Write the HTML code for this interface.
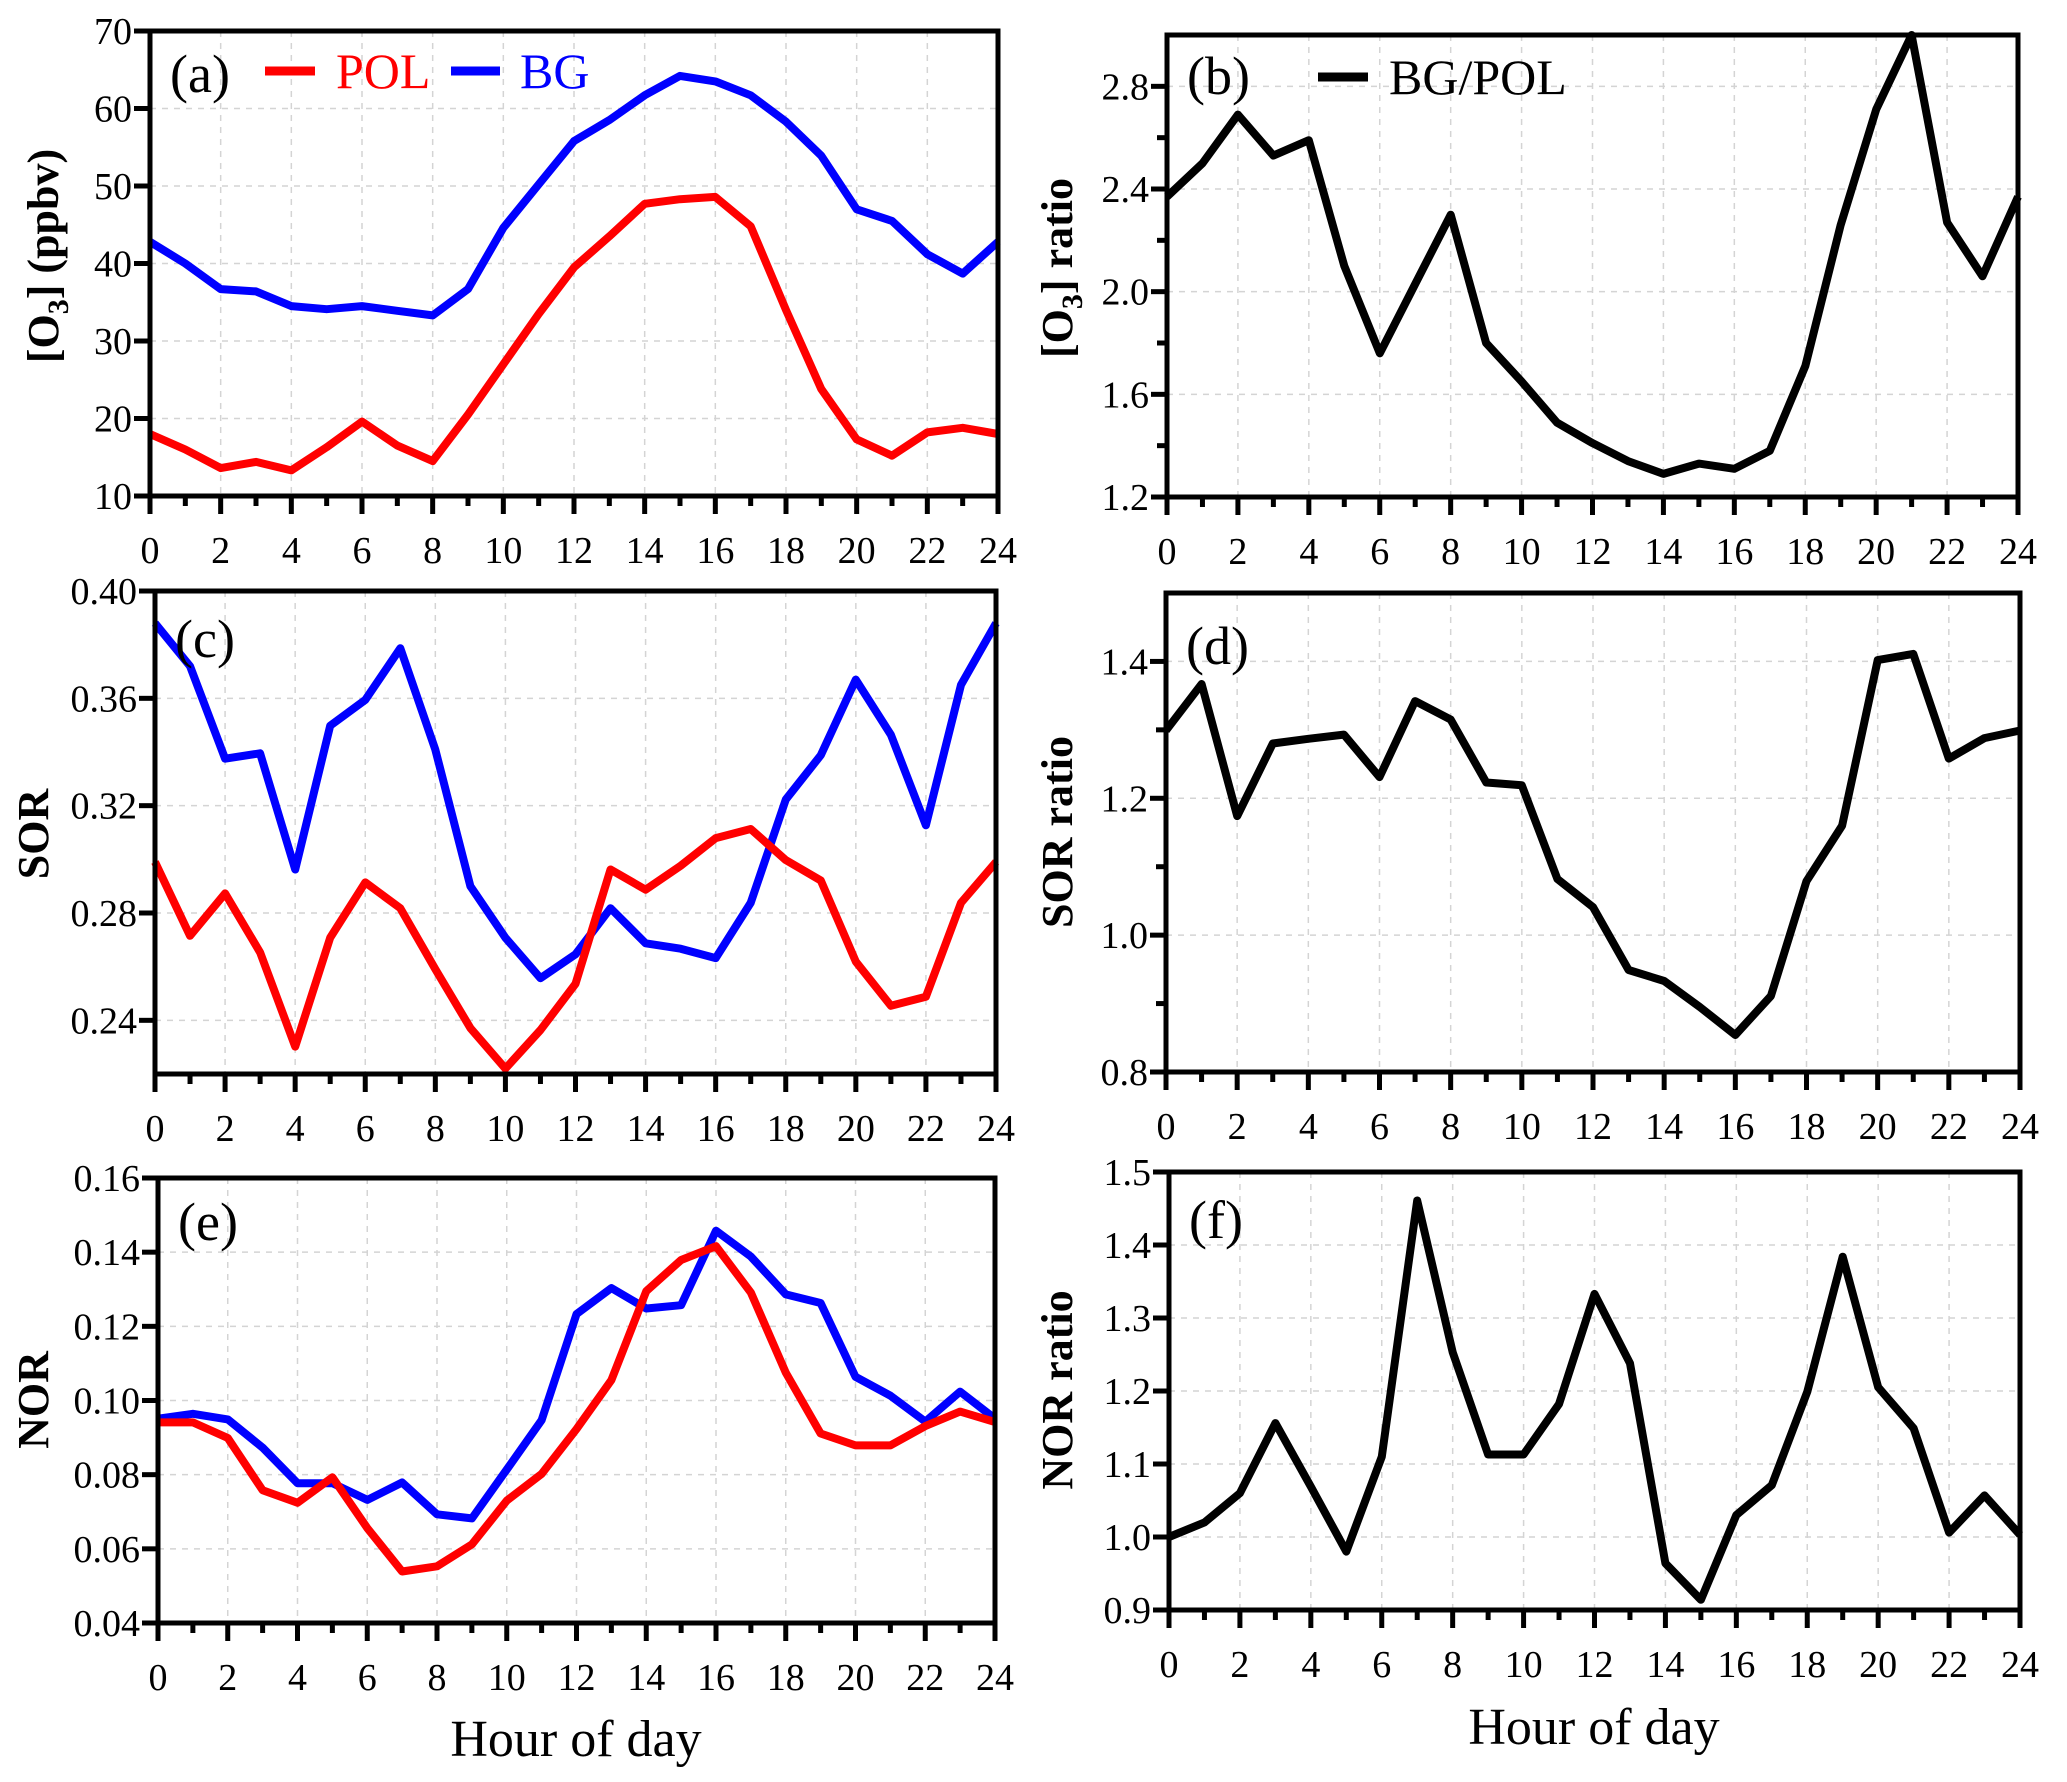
<!DOCTYPE html>
<html><head><meta charset="utf-8"><style>
html,body{margin:0;padding:0;background:#fff;}
svg{display:block;font-family:"Liberation Serif",serif;}
</style></head><body>
<svg id="fig" width="2067" height="1782" viewBox="0 0 2067 1782" xmlns="http://www.w3.org/2000/svg"></svg>
<script>
const hours = [0,1,2,3,4,5,6,7,8,9,10,11,12,13,14,15,16,17,18,19,20,21,22,23,24];
const xTickLabels = ["0","2","4","6","8","10","12","14","16","18","20","22","24"];
const o3BG = [42.8,40,36.7,36.4,34.5,34.1,34.5,33.9,33.3,36.7,44.6,50.2,55.8,58.5,61.7,64.2,63.5,61.7,58.3,53.9,47,45.5,41.2,38.7,42.8];
const o3POL = [18,16,13.6,14.4,13.3,16.3,19.6,16.5,14.5,20.5,27,33.5,39.5,43.5,47.7,48.3,48.6,44.8,34,23.8,17.3,15.2,18.2,18.8,18];
const o3Ratio = [2.37,2.50,2.69,2.53,2.59,2.10,1.76,2.03,2.30,1.80,1.65,1.49,1.41,1.34,1.29,1.33,1.31,1.38,1.71,2.26,2.71,3.0,2.27,2.06,2.37];
const sorBG = [0.388,0.372,0.3375,0.3395,0.2962,0.3498,0.3594,0.3787,0.3409,0.29,0.2708,0.2557,0.2646,0.2818,0.2687,0.2667,0.2632,0.2838,0.3223,0.3388,0.367,0.3464,0.3127,0.365,0.388];
const sorPOL = [0.299,0.2715,0.2873,0.2653,0.2302,0.2708,0.2914,0.2818,0.2591,0.2371,0.222,0.2364,0.2536,0.2962,0.2887,0.2976,0.3079,0.3113,0.2997,0.2921,0.2619,0.2454,0.2488,0.2838,0.299];
const sorRatio = [1.299,1.367,1.174,1.28,1.287,1.293,1.231,1.342,1.315,1.223,1.219,1.082,1.041,0.949,0.933,0.895,0.854,0.911,1.079,1.16,1.402,1.411,1.258,1.288,1.299];
const norBG = [0.0951,0.0964,0.0949,0.0873,0.0777,0.0777,0.0732,0.0779,0.0693,0.0682,0.0814,0.0947,0.1233,0.1303,0.1248,0.1257,0.1458,0.1388,0.1286,0.1263,0.1064,0.1013,0.0943,0.1024,0.0951];
const norPOL = [0.0941,0.0941,0.0899,0.0758,0.0724,0.0793,0.0656,0.0539,0.0553,0.0612,0.073,0.0802,0.0923,0.1055,0.1295,0.1379,0.1416,0.1291,0.1075,0.0911,0.0879,0.0879,0.0931,0.097,0.0942];
const norRatio = [1.0,1.02,1.06,1.156,1.069,0.98,1.11,1.461,1.253,1.113,1.113,1.182,1.333,1.238,0.964,0.914,1.03,1.071,1.199,1.384,1.205,1.149,1.006,1.057,1.003];
const ticksA = [10,20,30,40,50,60,70];
const ticksB = [1.2,1.6,2.0,2.4,2.8];
const ticksC = [0.24,0.28,0.32,0.36,0.40];
const ticksD = [0.8,1.0,1.2,1.4];
const ticksE = [0.04,0.06,0.08,0.10,0.12,0.14,0.16];
const ticksF = [0.9,1.0,1.1,1.2,1.3,1.4,1.5];

const NS = "http://www.w3.org/2000/svg";
const svg = document.getElementById('fig');
function mk(tag, attrs, parent){
  const e = document.createElementNS(NS, tag);
  for (const k in attrs) e.setAttribute(k, attrs[k]);
  (parent||svg).appendChild(e);
  return e;
}
function panel(cfg){
  const g = mk('g', {});
  
  
  const sx = h => cfg.L + (h/24)*(cfg.R-cfg.L);
  const sy = v => cfg.B - (v-cfg.min)/(cfg.max-cfg.min)*(cfg.B-cfg.T);
  // grid
  for (let h=2; h<24; h+=2){
    const l = mk('line', {x1:sx(h),x2:sx(h),y1:cfg.T,y2:cfg.B,stroke:'#d4d4d4','stroke-width':1.5,'stroke-dasharray':'6,6'}, g);
    
    
  }
  cfg.ticks.forEach(v=>{
    const y = sy(v);
    if (Math.abs(y-cfg.T)>3 && Math.abs(y-cfg.B)>3){
      const l = mk('line', {x1:cfg.L,x2:cfg.R,y1:y,y2:y,stroke:'#d4d4d4','stroke-width':1.5,'stroke-dasharray':'6,6'}, g);
      
      
    }
    const t = mk('line', {x1:cfg.L-16,x2:cfg.L,y1:y,y2:y,stroke:'#000','stroke-width':5}, g);
    
    
    const tx = mk('text', {x:cfg.L-18,y:y+13,'text-anchor':'end','font-size':38}, g);
    tx.textContent = cfg.fmt(v);
    
    
  });
  (cfg.minor||[]).forEach(v=>{
    const t = mk('line', {x1:cfg.L-10,x2:cfg.L,y1:sy(v),y2:sy(v),stroke:'#000','stroke-width':5}, g);
    
    
  });
  hours.forEach(h=>{
    const major = h%2===0;
    const t = mk('line', {x1:sx(h),x2:sx(h),y1:cfg.B,y2:cfg.B+(major?18:10),stroke:'#000','stroke-width':5}, g);
    
    
  });
  xTickLabels.forEach(s=>{
    const t = mk('text', {x:sx(+s),y:cfg.B+67,'text-anchor':'middle','font-size':38}, g);
    t.textContent = s;
    
    
  });
  // series
  cfg.series.forEach(s=>{
    const pts = s.data.map((v,i)=>sx(hours[i]).toFixed(1)+','+sy(v).toFixed(1)).join(' ');
    const p = mk('polyline', {points:pts,fill:'none',stroke:s.color,'stroke-width':8,'stroke-linejoin':'round'}, g);
    
    
  });
  const box = mk('rect', {x:cfg.L,y:cfg.T,width:cfg.R-cfg.L,height:cfg.B-cfg.T,fill:'none',stroke:'#000','stroke-width':5}, g);
  
  
  const lab = mk('text', {x:cfg.L+20,y:cfg.labY,'font-size':54}, g);
  lab.textContent = '(' + cfg.id + ')';
  
  
  const yt = mk('text', {x:0,y:0,'text-anchor':'middle','font-size':44,'font-weight':'bold',transform:'translate('+cfg.yx+','+cfg.yy+') rotate(-90)'}, g);
  yt.innerHTML = cfg.ytitle;
  
  
  return g;
}
const f1 = v=>v.toFixed(1), f2 = v=>v.toFixed(2), f0 = v=>String(v);
panel({id:'a',L:150,R:998,T:31,B:496,min:10,max:70,ticks:ticksA,fmt:f0,labY:92,yx:58,yy:256,
  ytitle:'[O<tspan font-size="30" dy="10">3</tspan><tspan dy="-10">] (ppbv)</tspan>',
  series:[{name:'bg-line',data:o3BG,color:'#0000ff'},{name:'pol-line',data:o3POL,color:'#ff0000'}]});
panel({id:'b',L:1167,R:2018,T:35,B:497,min:1.2,max:3.0,ticks:ticksB,minor:[1.4,1.8,2.2,2.6],fmt:f1,labY:94,yx:1072,yy:268,
  ytitle:'[O<tspan font-size="30" dy="10">3</tspan><tspan dy="-10">] ratio</tspan>',
  series:[{name:'ratio-line',data:o3Ratio,color:'#000'}]});
panel({id:'c',L:155,R:996,T:591,B:1074,min:0.22,max:0.40,ticks:ticksC,fmt:f2,labY:657,yx:48,yy:834,ytitle:'SOR',
  series:[{name:'bg-line',data:sorBG,color:'#0000ff'},{name:'pol-line',data:sorPOL,color:'#ff0000'}]});
panel({id:'d',L:1166,R:2020,T:593,B:1072,min:0.8,max:1.5,ticks:ticksD,minor:[0.9,1.1,1.3],fmt:f1,labY:664,yx:1072,yy:832,ytitle:'SOR ratio',
  series:[{name:'ratio-line',data:sorRatio,color:'#000'}]});
panel({id:'e',L:158,R:995,T:1178,B:1623,min:0.04,max:0.16,ticks:ticksE,fmt:f2,labY:1240,yx:48,yy:1400,ytitle:'NOR',
  series:[{name:'bg-line',data:norBG,color:'#0000ff'},{name:'pol-line',data:norPOL,color:'#ff0000'}]});
panel({id:'f',L:1169,R:2020,T:1172,B:1610,min:0.9,max:1.5,ticks:ticksF,fmt:f1,labY:1238,yx:1072,yy:1390,ytitle:'NOR ratio',
  series:[{name:'ratio-line',data:norRatio,color:'#000'}]});
</script>
<svg width="0" height="0" style="position:absolute"></svg>
<script>
(function(){
  const NS="http://www.w3.org/2000/svg", s=document.getElementById('fig');
  function add(tag,a,txt){const e=document.createElementNS(NS,tag);for(const k in a)e.setAttribute(k,a[k]);if(txt)e.textContent=txt;s.appendChild(e);return e;}
  let e;
  e=add('line',{x1:265,x2:315,y1:71,y2:71,stroke:'#ff0000','stroke-width':9});
  
  
  e=add('text',{x:336,y:88,'font-size':50,fill:'#ff0000'},'POL');
  
  
  e=add('line',{x1:451,x2:500,y1:71,y2:71,stroke:'#0000ff','stroke-width':9});
  
  
  e=add('text',{x:520,y:88,'font-size':50,fill:'#0000ff'},'BG');
  
  
  e=add('line',{x1:1318,x2:1368,y1:77,y2:77,stroke:'#000','stroke-width':9});
  
  
  e=add('text',{x:1389,y:94,'font-size':50},'BG/POL');
  
  
  e=add('text',{x:576,y:1756,'font-size':52,'text-anchor':'middle'},'Hour of day');
  
  
  e=add('text',{x:1594,y:1744,'font-size':52,'text-anchor':'middle'},'Hour of day');
  
  
})();
</script>
</body></html>
